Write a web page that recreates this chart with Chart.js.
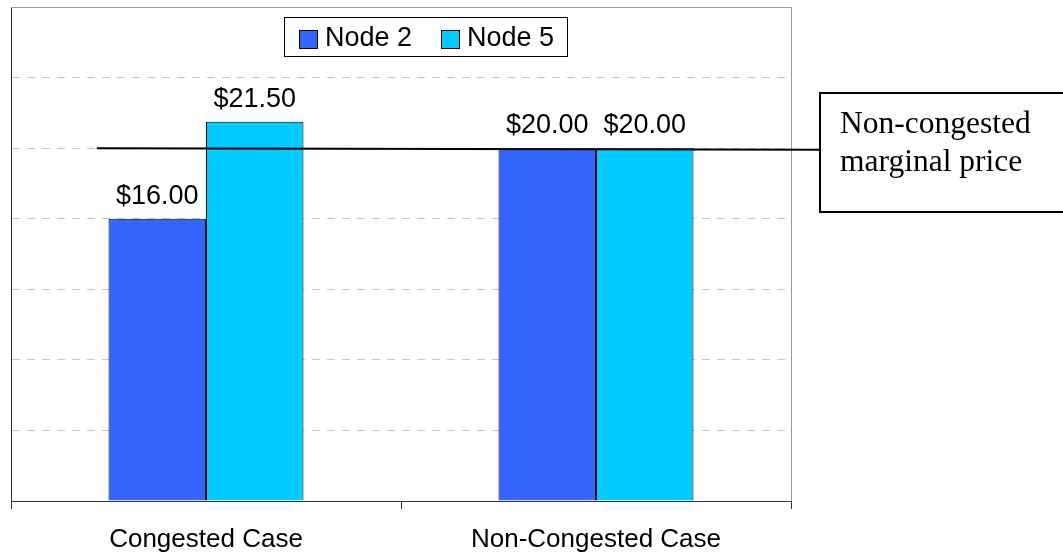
<!DOCTYPE html>
<html>
<head>
    <title>Node Prices</title>
    <script src="https://cdn.jsdelivr.net/npm/chart.js"></script>
    <style>
        body { margin: 0; background: #fff; }
        canvas { display: block; }
    </style>
</head>
<body>
    <canvas id="priceChart" width="1063" height="556"></canvas>

    <script>
        // Chart data
        const cases = ['Congested Case', 'Non-Congested Case'];
        const seriesNames = ['Node 2', 'Node 5'];
        const node2 = [16.00, 20.00];
        const node5 = [21.50, 20.00];
        const refPrice = 20;
        const refLabel = ['Non-congested', 'marginal price'];

        const colors = ['#3366FF', '#00CCFF'];
        const sans = 'Arial, "Liberation Sans", sans-serif';
        const serif = '"Times New Roman", "Liberation Serif", serif';

        // value labels above each bar
        const valueLabels = {
            id: 'valueLabels',
            afterDatasetsDraw(chart) {
                const ctx = chart.ctx;
                ctx.save();
                ctx.font = '27px ' + sans;
                ctx.fillStyle = '#000';
                ctx.textAlign = 'center';
                ctx.textBaseline = 'alphabetic';
                chart.data.datasets.forEach((ds, i) => {
                    chart.getDatasetMeta(i).data.forEach((bar, j) => {
                        ctx.fillText('$' + ds.data[j].toFixed(2), bar.x, bar.y - 15);
                    });
                });
                ctx.restore();
            }
        };

        // frame, reference line, callout box, legend
        const extras = {
            id: 'extras',
            afterDraw(chart) {
                const ctx = chart.ctx;
                const area = chart.chartArea;
                const x = chart.scales.x;
                const y = chart.scales.y;
                ctx.save();

                // top and right frame
                ctx.strokeStyle = '#999';
                ctx.lineWidth = 1;
                ctx.beginPath();
                ctx.moveTo(area.left, area.top + 0.5);
                ctx.lineTo(area.right + 0.5, area.top + 0.5);
                ctx.lineTo(area.right + 0.5, area.bottom);
                ctx.stroke();

                // reference price line
                const catW = x.getPixelForValue(1) - x.getPixelForValue(0);
                const boxLeft = area.right + 29;
                const ly = y.getPixelForValue(refPrice);
                ctx.strokeStyle = '#000';
                ctx.lineWidth = 2;
                ctx.beginPath();
                ctx.moveTo(x.getPixelForValue(0) - 0.28 * catW, ly);
                ctx.lineTo(boxLeft, ly + 1.5);
                ctx.stroke();

                // callout box
                ctx.fillStyle = '#fff';
                ctx.fillRect(boxLeft, 93, 300, 119);
                ctx.strokeRect(boxLeft, 93, 300, 119);
                ctx.fillStyle = '#000';
                ctx.font = '31.5px ' + serif;
                ctx.textAlign = 'left';
                ctx.fillText(refLabel[0], boxLeft + 20, 133);
                ctx.fillText(refLabel[1], boxLeft + 20, 171);

                // legend
                ctx.lineWidth = 1;
                ctx.fillStyle = '#fff';
                ctx.fillRect(284.5, 17.5, 283, 39);
                ctx.strokeStyle = '#000';
                ctx.strokeRect(284.5, 17.5, 283, 39);
                ctx.font = '27px ' + sans;
                ctx.textBaseline = 'middle';
                const itemX = [299, 441];
                chart.data.datasets.forEach((ds, i) => {
                    ctx.fillStyle = ds.backgroundColor;
                    ctx.fillRect(itemX[i] + 0.5, 30.5, 18, 18);
                    ctx.strokeStyle = '#000';
                    ctx.strokeRect(itemX[i] + 0.5, 30.5, 18, 18);
                    ctx.fillStyle = '#000';
                    ctx.fillText(ds.label, itemX[i] + 26, 39);
                });
                ctx.restore();
            }
        };

        new Chart(document.getElementById('priceChart').getContext('2d'), {
            type: 'bar',
            data: {
                labels: cases,
                datasets: [
                    { label: seriesNames[0], data: node2, backgroundColor: colors[0], borderColor: '#000', borderWidth: 1 },
                    { label: seriesNames[1], data: node5, backgroundColor: colors[1], borderColor: '#000', borderWidth: 1 }
                ]
            },
            options: {
                responsive: false,
                animation: false,
                layout: { padding: { left: 11, right: 272, top: 7, bottom: 0 } },
                datasets: { bar: { categoryPercentage: 0.5, barPercentage: 1 } },
                plugins: { legend: { display: false }, tooltip: { enabled: false } },
                scales: {
                    x: {
                        afterFit(scale) { scale.height = 55; },
                        grid: { drawOnChartArea: false, drawTicks: true, tickLength: 8, color: '#333' },
                        border: { color: '#333', width: 1 },
                        ticks: { color: '#000', font: { family: sans, size: 26 }, padding: 15 }
                    },
                    y: {
                        min: 0,
                        max: 28,
                        ticks: { display: false, stepSize: 4 },
                        grid: { drawTicks: false, color: '#c8c8c8' },
                        border: { color: '#333', width: 1, dash: [8, 7] }
                    }
                }
            },
            plugins: [valueLabels, extras]
        });
    </script>
</body>
</html>
